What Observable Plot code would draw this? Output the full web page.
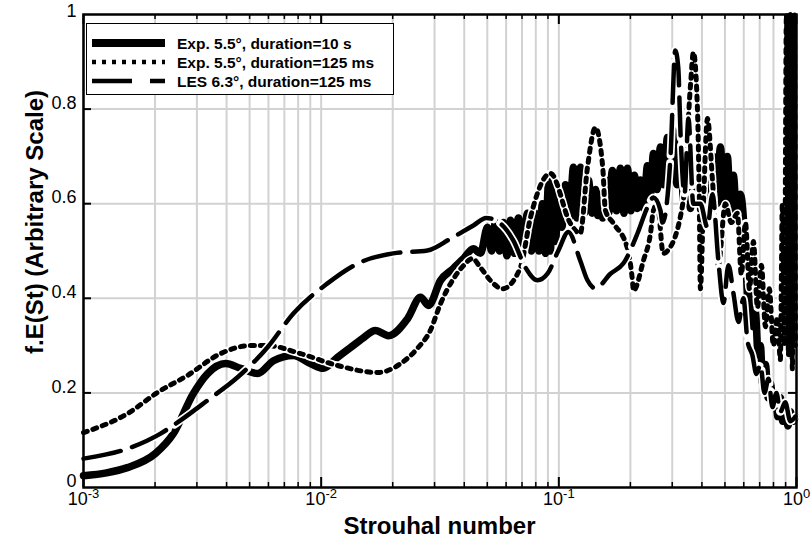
<!DOCTYPE html>
<html><head><meta charset="utf-8">
<script src="https://cdn.jsdelivr.net/npm/d3@7"></script>
<script src="https://cdn.jsdelivr.net/npm/@observablehq/plot@0.6"></script>
<style>
html,body{margin:0;padding:0;background:#fff;}
#chart{width:812px;height:542px;}
svg{font-family:"Liberation Sans",Arial,Helvetica,sans-serif;}
</style></head><body><div id="chart"></div>
<script>
// ---- Data ----
const stSolid = [0.001,0.00125,0.00153,0.00201,0.00239,0.0029,0.00333,0.00396,0.00458,0.0054,0.0063,0.00764,0.00902,0.0102,0.0117,0.0133,0.0151,0.0169,0.0192,0.0231,0.0262,0.0283,0.0318,0.036,0.0397,0.0437,0.0468,
 0.0501,0.0521,0.0541,0.0563,0.0585,0.0605,0.0626,0.065,0.0676,0.0706,0.0738,0.0767,0.0797,0.0825,0.0853,0.0878,0.0904,0.0922,0.094,0.0968,0.0996,0.103,0.1066,0.111,0.1152,0.119,0.1233,0.128,0.1332,0.138,0.1426,0.146,0.1496,0.153,0.157,0.162,0.168,0.175,0.1816,0.188,0.1944,0.201,0.208,0.214,0.2204,0.228,0.2359,0.243,0.25,0.259,0.2676,0.277,0.2863,0.295,0.3035,0.314,0.3249,0.336,0.3475,0.358,0.3684,0.381,0.3942,0.408,0.422,0.434,0.4472,0.463,0.4785,0.495,0.512,0.527,0.5427,0.561,0.5808,
 0.61,0.625,0.64,0.655,0.671,0.69,0.705,0.72,0.74,0.76,0.776,0.8,0.815,0.835,0.855,0.875,0.897,0.92,0.942,0.965,0.989];
const fSolid = [0.025,0.031,0.042,0.072,0.114,0.199,0.241,0.262,0.252,0.241,0.268,0.279,0.262,0.252,0.275,0.296,0.317,0.332,0.321,0.357,0.402,0.385,0.438,0.463,0.484,0.505,0.495,
 0.55,0.50,0.56,0.50,0.56,0.49,0.565,0.495,0.57,0.50,0.58,0.50,0.58,0.50,0.60,0.495,0.64,0.50,0.655,0.52,0.62,0.55,0.64,0.57,0.677,0.57,0.677,0.58,0.65,0.58,0.63,0.575,0.62,0.57,0.65,0.58,0.67,0.585,0.675,0.58,0.675,0.585,0.66,0.59,0.65,0.59,0.68,0.62,0.706,0.63,0.72,0.64,0.74,0.65,0.755,0.64,0.70,0.60,0.68,0.59,0.68,0.60,0.69,0.60,0.70,0.61,0.70,0.60,0.72,0.60,0.70,0.58,0.66,0.56,0.62,
 0.50,0.40,0.45,0.34,0.37,0.28,0.30,0.22,0.26,0.19,0.22,0.17,0.20,0.15,0.19,0.14,0.17,0.13,0.16,0.14,0.15];

const stDotted = [0.001,0.00153,0.00205,0.00274,0.00377,0.00504,0.00594,0.00819,0.0117,0.0173,0.0216,0.0254,0.0288,0.0318,0.0357,0.0397,0.0433,0.0468,0.0531,0.0579,0.0689,0.076,0.0922,0.112,0.123,0.132,0.1426,0.153,0.157,0.17,0.194,0.204,0.206,0.227,0.243,0.25,0.26,0.275,0.2863,0.334,0.358,0.3684,0.383,0.39,0.394,0.406,0.422,0.443,0.469,0.502,0.532,0.564,
 0.586,0.61,0.634,0.659,0.685,0.712,0.74,0.769,0.799,0.831,0.855,0.872,0.889,0.907,0.925,0.942,0.961,0.98,0.989];
const fDotted = [0.116,0.156,0.201,0.237,0.283,0.300,0.300,0.283,0.258,0.243,0.262,0.294,0.332,0.389,0.438,0.469,0.484,0.465,0.431,0.42,0.465,0.571,0.664,0.558,0.537,0.677,0.761,0.677,0.586,0.558,0.507,0.438,0.416,0.48,0.537,0.586,0.60,0.495,0.50,0.607,0.85,0.92,0.80,0.60,0.42,0.60,0.78,0.65,0.47,0.60,0.56,0.58,
 0.45,0.56,0.42,0.52,0.38,0.47,0.34,0.42,0.30,0.36,0.27,0.6,0.30,1.0,0.28,1.0,0.25,1.0,0.3];

const stLES = [0.001,0.00153,0.00211,0.00256,0.00332,0.00445,0.00594,0.00764,0.0106,0.0146,0.0201,0.028,0.035,0.0437,0.0495,0.0568,0.0644,0.0724,0.0813,0.0896,0.0996,0.1097,0.123,0.132,0.1426,0.1649,0.187,0.2142,0.2359,0.25,0.2676,0.273,0.295,0.309,0.318,0.325,0.338,0.351,0.368,0.394,0.422,0.443,0.469,0.493,0.517,0.543,0.57,0.598,0.622,0.652,0.678,0.705,0.733,0.762,0.792,0.823,0.855,0.897,0.942,0.989];
const fLES = [0.061,0.082,0.114,0.142,0.184,0.233,0.296,0.368,0.431,0.476,0.495,0.501,0.526,0.554,0.57,0.558,0.522,0.465,0.438,0.452,0.501,0.54,0.48,0.438,0.421,0.452,0.474,0.537,0.592,0.613,0.586,0.56,0.70,0.924,0.888,0.75,0.62,0.78,0.60,0.60,0.55,0.62,0.48,0.39,0.47,0.41,0.35,0.40,0.31,0.28,0.24,0.26,0.20,0.23,0.17,0.20,0.16,0.18,0.14,0.15];

const seriesNames = ["Exp. 5.5°, duration=10 s","Exp. 5.5°, duration=125 ms","LES 6.3°, duration=125 ms"];
const xMajor = [0.001,0.01,0.1,1];
const xMajorExp = ["-3","-2","-1","0"];
const xMinor = [0.002,0.003,0.004,0.005,0.006,0.007,0.008,0.009,0.02,0.03,0.04,0.05,0.06,0.07,0.08,0.09,0.2,0.3,0.4,0.5,0.6,0.7,0.8,0.9];
const yTicks = [0,0.2,0.4,0.6,0.8,1];
const yTickLabels = ["0","0.2","0.4","0.6","0.8","1"];
const yGrid = [0.2,0.4,0.6,0.8];

// ---- Layout ----
const W=812,H=542,mL=83,mR=16,mT=14,mB=55;
const pw=W-mL-mR, ph=H-mT-mB;
const rows=(xs,ys)=>xs.map((x,i)=>({st:x,f:ys[i]}));
const solid=rows(stSolid,fSolid), dotted=rows(stDotted,fDotted), les=rows(stLES,fLES);
const FONT='"Liberation Sans",Arial,Helvetica,sans-serif';
const yLab = d => yTickLabels[yTicks.indexOf(d)];

const chart = Plot.plot({
  width:W,height:H,marginLeft:mL,marginRight:mR,marginTop:mT,marginBottom:mB,
  x:{type:"log",domain:[0.001,1]},
  y:{domain:[0,1]},
  style:{fontFamily:FONT,fontSize:"18px",color:"black",background:"white",overflow:"visible"},
  marks:[
    Plot.ruleX(xMinor.concat(xMajor),{x:d=>d,stroke:"#d2d2d2",strokeWidth:2}),
    Plot.ruleY(yGrid,{y:d=>d,stroke:"#d2d2d2",strokeWidth:2}),
    Plot.line(solid,{x:"st",y:"f",stroke:"black",strokeWidth:7.5,strokeLinejoin:"round",strokeLinecap:"round",curve:"monotone-x"}),
    Plot.line(dotted,{x:"st",y:"f",stroke:"white",strokeWidth:8,strokeDasharray:"6.5 3.5",strokeDashoffset:1.25,curve:"monotone-x"}),
    Plot.line(dotted,{x:"st",y:"f",stroke:"black",strokeWidth:5,strokeDasharray:"4 6",curve:"monotone-x"}),
    Plot.line(les,{x:"st",y:"f",stroke:"white",strokeWidth:8,strokeDasharray:"42 8",strokeDashoffset:2,curve:"monotone-x"}),
    Plot.line(les,{x:"st",y:"f",stroke:"black",strokeWidth:4.5,strokeDasharray:"38 12",curve:"monotone-x"}),
    Plot.tickX(xMinor,{x:d=>d,stroke:"black",strokeWidth:1.5,insetTop:ph-5}),
    Plot.tickX(xMajor,{x:d=>d,stroke:"black",strokeWidth:2,insetTop:ph-10}),
    Plot.tickX(xMinor,{x:d=>d,stroke:"black",strokeWidth:1.5,insetBottom:ph-5}),
    Plot.tickX(xMajor,{x:d=>d,stroke:"black",strokeWidth:2,insetBottom:ph-10}),
    Plot.tickY(yGrid,{y:d=>d,stroke:"black",strokeWidth:2,insetRight:pw-8}),
    Plot.tickY(yGrid,{y:d=>d,stroke:"black",strokeWidth:2,insetLeft:pw-8}),
    Plot.frame({stroke:"black",strokeWidth:2.5}),
    Plot.axisX(xMajor,{tickSize:0,tickPadding:5,fontSize:18,label:null,tickFormat:d=>"10^"+xMajorExp[xMajor.indexOf(d)]}),
    Plot.axisY(yTicks.filter(d=>d<1),{tickSize:0,tickPadding:7,dy:-6,fontSize:18,label:null,tickFormat:yLab}),
    Plot.axisY(yTicks.filter(d=>d===1),{tickSize:0,tickPadding:7,dy:-3,fontSize:18,label:null,tickFormat:yLab})
  ]
});
document.getElementById("chart").appendChild(chart);

const svg=d3.select(chart);
// superscript tick labels
svg.selectAll('g[aria-label="x-axis tick label"] text').each(function(){
  const t=d3.select(this); const s=t.text(); const e=s.split("^")[1];
  t.text(null);
  t.append("tspan").text("10");
  t.append("tspan").attr("dy","-7").attr("font-size","13px").text(e);
});
// axis titles
svg.append("text").attr("x",(mL+W-mR)/2).attr("y",534).attr("text-anchor","middle")
  .attr("font-family",FONT).attr("font-weight","bold").attr("font-size","24px").text("Strouhal number");
svg.append("text").attr("transform","translate(43,222) rotate(-90)").attr("text-anchor","middle")
  .attr("font-family",FONT).attr("font-weight","bold").attr("font-size","24px").text("f.E(St) (Arbitrary Scale)");
// legend
const lg=svg.append("g").attr("text-anchor","start");
lg.append("rect").attr("x",86.5).attr("y",23.5).attr("width",307).attr("height",71).attr("fill","white").attr("stroke","black").attr("stroke-width",1);
const styles=[{w:8,d:null},{w:4.5,d:"4 6"},{w:4.5,d:"40 18"}];
seriesNames.forEach((name,i)=>{
  const yy=43+i*19;
  const l=lg.append("line").attr("x1",92).attr("x2",165).attr("y1",yy).attr("y2",yy).attr("stroke","black").attr("stroke-width",styles[i].w);
  if(styles[i].d) l.attr("stroke-dasharray",styles[i].d);
  lg.append("text").attr("x",177).attr("y",yy+5.5).attr("text-anchor","start").attr("font-family",FONT).attr("font-weight","bold").attr("font-size","15.5px").text(name);
});
</script></body></html>
